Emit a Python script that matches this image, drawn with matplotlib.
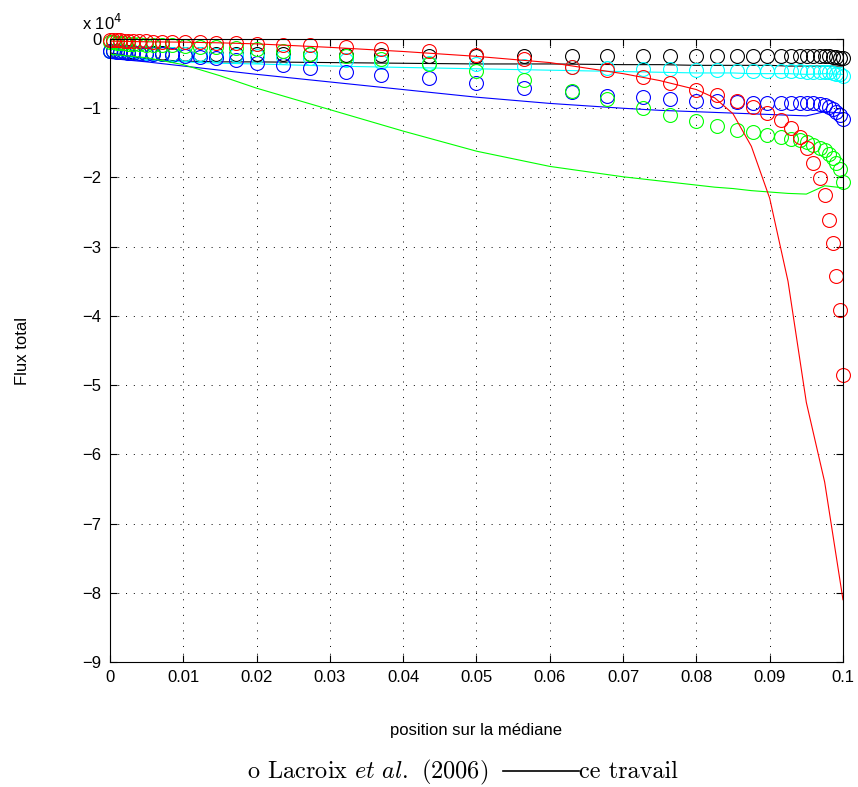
import matplotlib
matplotlib.use('Agg')
import matplotlib.pyplot as plt
from matplotlib.lines import Line2D

plt.rcParams['font.family'] = ['Liberation Sans', 'DejaVu Sans']
plt.rcParams['mathtext.fontset'] = 'cm'

# positions of the reference points (Lacroix et al.)
x_pts = [0, 0.0004, 0.0009, 0.0014, 0.0019, 0.0025, 0.0032, 0.0040, 0.0049, 0.0059,
         0.0071, 0.0085, 0.0103, 0.0123, 0.0145, 0.0172, 0.0200, 0.0236, 0.0273, 0.0322,
         0.0370, 0.0435, 0.0500, 0.0565, 0.0630, 0.0678, 0.0727, 0.0764, 0.0800, 0.0828,
         0.0855, 0.0877, 0.0897, 0.0915, 0.0929, 0.0941, 0.0951, 0.0959, 0.0968, 0.0975,
         0.0981, 0.0986, 0.0991, 0.0996, 0.1000]

# flux values, units of 1e4
pts_k = [-0.18, -0.18, -0.18, -0.19, -0.19, -0.19, -0.19, -0.20, -0.20, -0.20,
         -0.20, -0.21, -0.21, -0.21, -0.21, -0.22, -0.22, -0.22, -0.22, -0.23,
         -0.23, -0.24, -0.24, -0.24, -0.24, -0.24, -0.24, -0.24, -0.24, -0.24,
         -0.24, -0.24, -0.24, -0.24, -0.24, -0.24, -0.24, -0.24, -0.25, -0.25,
         -0.25, -0.26, -0.26, -0.27, -0.28]
pts_c = [-0.18, -0.18, -0.19, -0.19, -0.19, -0.20, -0.20, -0.20, -0.20, -0.21,
         -0.21, -0.21, -0.22, -0.22, -0.23, -0.23, -0.24, -0.26, -0.28, -0.30,
         -0.33, -0.35, -0.36, -0.39, -0.41, -0.42, -0.43, -0.44, -0.45, -0.45,
         -0.46, -0.46, -0.46, -0.46, -0.46, -0.46, -0.47, -0.47, -0.47, -0.48,
         -0.48, -0.49, -0.50, -0.51, -0.53]
pts_b = [-0.18, -0.18, -0.19, -0.19, -0.19, -0.20, -0.20, -0.20, -0.21, -0.21,
         -0.22, -0.23, -0.24, -0.26, -0.28, -0.30, -0.34, -0.38, -0.42, -0.47,
         -0.52, -0.57, -0.64, -0.71, -0.77, -0.82, -0.84, -0.87, -0.89, -0.90,
         -0.91, -0.92, -0.92, -0.92, -0.92, -0.92, -0.93, -0.93, -0.94, -0.96,
         -0.98, -1.01, -1.05, -1.10, -1.16]
pts_g = [-0.05, -0.05, -0.06, -0.06, -0.06, -0.07, -0.07, -0.07, -0.08, -0.08,
         -0.09, -0.09, -0.10, -0.11, -0.12, -0.13, -0.15, -0.18, -0.22, -0.25,
         -0.29, -0.36, -0.46, -0.59, -0.75, -0.87, -1.00, -1.10, -1.19, -1.26,
         -1.32, -1.35, -1.39, -1.41, -1.44, -1.46, -1.49, -1.53, -1.57, -1.61,
         -1.66, -1.72, -1.79, -1.88, -2.07]
pts_r = [-0.02, -0.02, -0.02, -0.02, -0.03, -0.03, -0.03, -0.03, -0.03, -0.04,
         -0.04, -0.04, -0.05, -0.05, -0.06, -0.06, -0.07, -0.08, -0.09, -0.12,
         -0.14, -0.18, -0.23, -0.29, -0.40, -0.45, -0.55, -0.63, -0.74, -0.81,
         -0.89, -0.98, -1.07, -1.17, -1.29, -1.41, -1.58, -1.79, -2.01, -2.25,
         -2.62, -2.95, -3.42, -3.92, -4.86]

# "ce travail" curves
x_line = [0, 0.005, 0.01, 0.015, 0.02, 0.03, 0.04, 0.05, 0.06, 0.07,
          0.075, 0.08, 0.0825, 0.085, 0.0875, 0.09, 0.0925, 0.095, 0.0975, 0.1]
line_k = [-0.20, -0.29, -0.32, -0.33, -0.33, -0.34, -0.35, -0.36, -0.36, -0.37,
          -0.37, -0.38, -0.38, -0.38, -0.38, -0.38, -0.39, -0.39, -0.39, -0.39]
line_c = [-0.22, -0.30, -0.33, -0.35, -0.36, -0.39, -0.41, -0.43, -0.45, -0.47,
          -0.48, -0.49, -0.49, -0.49, -0.50, -0.50, -0.50, -0.51, -0.50, -0.51]
line_b = [-0.28, -0.33, -0.39, -0.45, -0.51, -0.62, -0.73, -0.84, -0.93, -1.00,
          -1.03, -1.05, -1.06, -1.07, -1.08, -1.09, -1.10, -1.11, -1.05, -1.07]
line_g = [-0.22, -0.27, -0.37, -0.53, -0.71, -1.02, -1.33, -1.62, -1.84, -1.99,
          -2.05, -2.11, -2.14, -2.16, -2.19, -2.21, -2.23, -2.24, -2.12, -2.15]
line_r = [-0.03, -0.04, -0.045, -0.055, -0.07, -0.12, -0.18, -0.25, -0.34, -0.50,
          -0.60, -0.73, -0.85, -1.08, -1.55, -2.30, -3.50, -5.25, -6.40, -8.10]

fig = plt.figure(figsize=(8.58, 7.87), dpi=100)
ax = fig.add_axes([0.1282, 0.1588, 0.8543, 0.7916])

series = [(pts_k, line_k, 'k'), (pts_c, line_c, (0, 1, 1)), (pts_b, line_b, 'b'),
          (pts_g, line_g, (0, 1, 0)), (pts_r, line_r, 'r')]
for pts, ln, col in series:
    ax.plot(x_line, ln, color=col, lw=0.8)
    ax.plot(x_pts, pts, 'o', mfc='none', mec=col, ms=10, mew=0.8, clip_on=False)

ax.set_xlim(0, 0.1)
ax.set_ylim(-9, 0)
xt = [0, 0.01, 0.02, 0.03, 0.04, 0.05, 0.06, 0.07, 0.08, 0.09, 0.1]
ax.set_xticks(xt)
ax.set_xticklabels(['0', '0.01', '0.02', '0.03', '0.04', '0.05', '0.06', '0.07', '0.08', '0.09', '0.1'])
yt = list(range(-9, 1))
ax.set_yticks(yt)
ax.set_yticklabels(['\u2212%d' % -v if v < 0 else '0' for v in yt])
ax.tick_params(direction='in', length=5, width=0.8, top=True, right=True,
               labelsize=12, pad=6)
ax.grid(True, color='k', linestyle=(0, (1, 7)), linewidth=0.7)
for s in ax.spines.values():
    s.set_linewidth(0.8)

ax.set_xlabel('position sur la médiane', fontsize=12, labelpad=27)
ax.set_ylabel('Flux total', fontsize=12, labelpad=38)
fig.text(82 / 858, 1 - 30 / 787, r'x 10$^{4}$', fontsize=12, ha='left', va='baseline',
         family=['Liberation Sans'], math_fontfamily='dejavusans')

# legend line under the chart
fig.text(247 / 858, 1 - 778 / 787, r'o Lacroix $\mathit{et\ al.}$ (2006)', fontsize=17.5,
         family=['cmr10'], ha='left', va='baseline')
fig.add_artist(Line2D([503 / 858, 579 / 858], [1 - 771 / 787, 1 - 771 / 787],
                      color='k', lw=1.2, transform=fig.transFigure))
fig.text(579 / 858, 1 - 778 / 787, 'ce travail', fontsize=17.5, family=['cmr10'],
         ha='left', va='baseline')

plt.savefig('out.png', dpi=100)
plt.close()
